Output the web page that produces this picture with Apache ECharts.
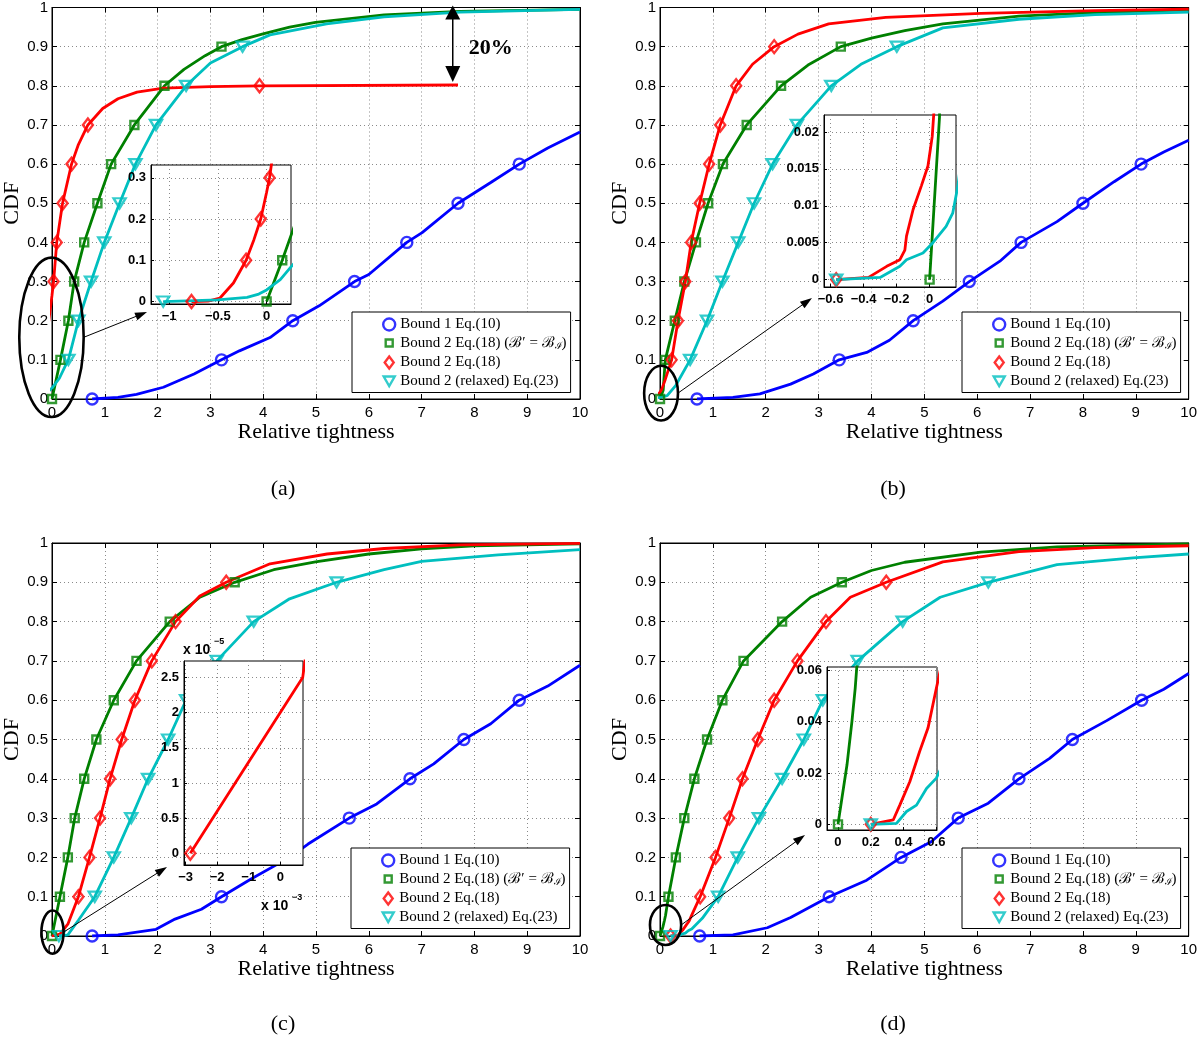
<!DOCTYPE html>
<html><head><meta charset="utf-8">
<script src="https://cdn.jsdelivr.net/npm/echarts@6/dist/echarts.min.js"></script>
<style>html,body{margin:0;padding:0;background:#fff}#c{width:1200px;height:1037px}</style>
</head><body><div id="c"></div><script>
// ---------------- data ----------------
const SERIES_NAMES = ['Bound 1 Eq.(10)', 'Bound 2 Eq.(18) (ℬ′ = ℬℐ)', 'Bound 2 Eq.(18)', 'Bound 2 (relaxed) Eq.(23)'];
const PANEL_LABELS = ['(a)', '(b)', '(c)', '(d)'];
const X_AXIS_NAME = 'Relative tightness';
const Y_AXIS_NAME = 'CDF';

// panel (a)
const A_BOUND1 = [[0.76,0],[1.25,0.004],[1.6,0.012],[2.11,0.03],[2.69,0.064],[3.21,0.1],[3.55,0.123],[4.13,0.157],[4.56,0.2],[5.06,0.238],[5.73,0.3],[6.0,0.318],[6.72,0.4],[7.01,0.425],[7.69,0.5],[8.31,0.553],[8.85,0.6],[9.39,0.641],[10,0.682]];
const A_BOUND2_BI = [[0,0],[0.16,0.1],[0.31,0.2],[0.42,0.3],[0.61,0.4],[0.86,0.5],[1.12,0.6],[1.56,0.7],[2.13,0.8],[2.5,0.842],[2.9,0.877],[3.21,0.9],[3.6,0.918],[3.98,0.932],[4.5,0.95],[4.99,0.962],[6.29,0.981],[7.73,0.99],[10,0.995]];
const A_BOUND2 = [[-0.77,0],[-0.6,0.001],[-0.48,0.008],[-0.34,0.045],[-0.21,0.1],[-0.13,0.15],[-0.06,0.2],[0.0,0.265],[0.03,0.3],[0.09,0.4],[0.2,0.5],[0.37,0.6],[0.5,0.65],[0.68,0.7],[0.96,0.742],[1.25,0.767],[1.61,0.784],[2.11,0.794],[3.0,0.798],[3.93,0.8],[7.69,0.802]];
const A_RELAXED = [[-1.06,0],[-0.5,0.004],[-0.2,0.01],[-0.08,0.018],[0,0.028],[0.14,0.053],[0.25,0.084],[0.31,0.1],[0.5,0.2],[0.74,0.3],[0.99,0.4],[1.28,0.5],[1.58,0.6],[1.97,0.7],[2.54,0.8],[3.0,0.858],[3.61,0.9],[4.13,0.93],[5.2,0.958],[6.29,0.976],[7.73,0.988],[10,0.995]];

// panel (b)
const B_BOUND1 = [[0.7,0],[1.38,0.004],[1.89,0.013],[2.47,0.038],[2.9,0.064],[3.39,0.1],[3.91,0.119],[4.34,0.15],[4.79,0.2],[5.35,0.25],[5.85,0.3],[6.43,0.352],[6.83,0.4],[7.51,0.453],[8.0,0.5],[8.59,0.555],[9.1,0.6],[9.53,0.631],[10,0.661]];
const B_BOUND2_BI = [[0,0],[0.06,0.022],[0.1,0.1],[0.28,0.2],[0.46,0.3],[0.68,0.4],[0.91,0.5],[1.19,0.6],[1.64,0.7],[2.29,0.8],[2.8,0.853],[3.42,0.9],[4.0,0.922],[4.63,0.941],[5.35,0.958],[6.79,0.978],[8.23,0.987],[10,0.994]];
const B_BOUND2 = [[-0.566,0],[-0.37,0.0003],[-0.26,0.0018],[-0.18,0.0027],[-0.15,0.004],[-0.14,0.0059],[-0.1,0.0095],[-0.05,0.0127],[-0.01,0.0154],[0.016,0.0194],[0.03,0.024],[0.1,0.05],[0.22,0.1],[0.34,0.2],[0.48,0.3],[0.59,0.4],[0.75,0.5],[0.93,0.6],[1.14,0.7],[1.44,0.8],[1.75,0.855],[2.16,0.9],[2.61,0.932],[3.19,0.958],[4.27,0.975],[6.07,0.985],[8.23,0.992],[10,0.996]];
const B_RELAXED = [[-0.566,0],[-0.3,0.0003],[-0.18,0.0018],[-0.14,0.0027],[-0.04,0.0036],[0.02,0.005],[0.1,0.0072],[0.14,0.009],[0.17,0.0125],[0.3,0.035],[0.57,0.1],[0.89,0.2],[1.18,0.3],[1.48,0.4],[1.78,0.5],[2.13,0.6],[2.59,0.7],[3.24,0.8],[3.8,0.855],[4.48,0.9],[5.35,0.948],[6.79,0.97],[8.23,0.982],[10,0.988]];

// panel (c)
const C_BOUND1 = [[0.76,0],[1.25,0.003],[1.97,0.017],[2.33,0.043],[2.83,0.068],[3.21,0.1],[3.77,0.145],[4.5,0.2],[4.85,0.234],[5.63,0.3],[6.15,0.336],[6.78,0.4],[7.23,0.438],[7.8,0.5],[8.31,0.54],[8.85,0.6],[9.39,0.636],[10,0.689]];
const C_BOUND2_BI = [[0,0],[0.15,0.1],[0.3,0.2],[0.43,0.3],[0.61,0.4],[0.84,0.5],[1.17,0.6],[1.6,0.7],[2.23,0.8],[2.8,0.862],[3.46,0.9],[4.2,0.932],[4.99,0.952],[6.0,0.972],[7.0,0.985],[8.0,0.993],[10,0.998]];
const C_BOUND2 = [[-0.00285,0],[0.00071,0.000025],[0.15,0.005],[0.3,0.03],[0.5,0.1],[0.71,0.2],[0.91,0.3],[1.1,0.4],[1.32,0.5],[1.57,0.6],[1.89,0.7],[2.34,0.8],[2.8,0.865],[3.3,0.9],[4.13,0.947],[5.21,0.972],[6.29,0.986],[7.73,0.995],[10,0.999]];
const C_RELAXED = [[0.13,0],[0.3,0.003],[0.5,0.04],[0.81,0.1],[1.17,0.2],[1.5,0.3],[1.82,0.4],[2.2,0.5],[2.54,0.6],[3.12,0.7],[3.82,0.8],[4.5,0.858],[5.39,0.9],[6.29,0.932],[7.0,0.953],[8.45,0.97],[10,0.983]];

// panel (d)
const D_BOUND1 = [[0.75,0],[1.38,0.003],[2.03,0.021],[2.47,0.047],[3.2,0.1],[3.91,0.142],[4.56,0.2],[5.13,0.24],[5.64,0.3],[6.21,0.338],[6.79,0.4],[7.37,0.452],[7.8,0.5],[8.45,0.548],[9.11,0.6],[9.53,0.628],[10,0.668]];
const D_BOUND2_BI = [[0,0],[0.024,0.0102],[0.055,0.0232],[0.085,0.04],[0.105,0.053],[0.16,0.1],[0.3,0.2],[0.46,0.3],[0.65,0.4],[0.89,0.5],[1.18,0.6],[1.58,0.7],[2.31,0.8],[2.85,0.862],[3.44,0.9],[4.0,0.93],[4.63,0.951],[6.07,0.977],[7.51,0.99],[10,0.998]];
const D_BOUND2 = [[0.2,0],[0.337,0.0017],[0.377,0.0075],[0.438,0.0166],[0.498,0.0284],[0.549,0.0375],[0.6,0.053],[0.76,0.1],[1.05,0.2],[1.31,0.3],[1.56,0.4],[1.85,0.5],[2.16,0.6],[2.6,0.7],[3.14,0.8],[3.6,0.862],[4.28,0.9],[5.35,0.952],[6.79,0.978],[8.23,0.988],[10,0.993]];
const D_RELAXED = [[0.2,0],[0.357,0.0004],[0.418,0.005],[0.479,0.0075],[0.54,0.014],[0.6,0.018],[0.8,0.045],[1.1,0.1],[1.47,0.2],[1.87,0.3],[2.31,0.4],[2.72,0.5],[3.08,0.6],[3.74,0.7],[4.59,0.8],[5.3,0.862],[6.21,0.9],[7.51,0.945],[8.95,0.962],[10,0.972]];

// inset tick values, zoom windows and the curves each inset shows (0 blue, 1 green, 2 red, 3 cyan)
const INSET_A_XTICKS = [-1, -0.5, 0];
const INSET_A_YTICKS = [0, 0.1, 0.2, 0.3];
const INSET_B_XTICKS = [-0.6, -0.4, -0.2, 0];
const INSET_B_YTICKS = [0, 0.005, 0.01, 0.015, 0.02];
const INSET_C_XTICKS = [-0.003, -0.002, -0.001, 0];
const INSET_C_YTICKS = [0, 0.000005, 0.00001, 0.000015, 0.00002, 0.000025];
const INSET_D_XTICKS = [0, 0.2, 0.4, 0.6];
const INSET_D_YTICKS = [0, 0.02, 0.04, 0.06];
const INSET_A_WINDOW = {x: [-1.185, 0.25], y: [-0.006, 0.331]};
const INSET_B_WINDOW = {x: [-0.64, 0.16], y: [-0.001, 0.0223]};
const INSET_C_WINDOW = {x: [-0.00305, 0.00072], y: [-0.00000166, 0.00002736]};
const INSET_D_WINDOW = {x: [-0.067, 0.604], y: [-0.0022, 0.0613]};
const INSET_C_SCALE = {x: 1e3, y: 1e5};
const INSET_CURVES = [[1, 2, 3], [1, 2, 3], [2], [1, 2, 3]];
// highlighted regions (data space) circled on the main axes
const CIRCLED_REGIONS = [
  {x: [-0.62, 0.6], y: [-0.046, 0.361]},
  {x: [-0.3, 0.34], y: [-0.055, 0.085]},
  {x: [-0.2, 0.22], y: [-0.045, 0.065]},
  {x: [-0.19, 0.4], y: [-0.023, 0.079]}
];
const GAP_ANNOTATION = {x: 7.59, yTop: 1.005, yBottom: 0.81, label: '20%', labelX: 8.31, labelY: 0.896};

// ---------------- layout & styles ----------------
const CURVES = [
  [A_BOUND1, A_BOUND2_BI, A_BOUND2, A_RELAXED],
  [B_BOUND1, B_BOUND2_BI, B_BOUND2, B_RELAXED],
  [C_BOUND1, C_BOUND2_BI, C_BOUND2, C_RELAXED],
  [D_BOUND1, D_BOUND2_BI, D_BOUND2, D_RELAXED]
];
const INSETS = [
  {xt: INSET_A_XTICKS, yt: INSET_A_YTICKS, w: INSET_A_WINDOW, sx: 1, sy: 1},
  {xt: INSET_B_XTICKS, yt: INSET_B_YTICKS, w: INSET_B_WINDOW, sx: 1, sy: 1},
  {xt: INSET_C_XTICKS, yt: INSET_C_YTICKS, w: INSET_C_WINDOW, sx: INSET_C_SCALE.x, sy: INSET_C_SCALE.y},
  {xt: INSET_D_XTICKS, yt: INSET_D_YTICKS, w: INSET_D_WINDOW, sx: 1, sy: 1}
];
const LAYOUT = [
  {grid: {left: 48, top: 6, width: 532, height: 393}, inset: {left: 151, top: 165, width: 140, height: 139}, legend: {left: 352, top: 312}, caption: [283, 489], tip: [-4, 8]},
  {grid: {left: 660, top: 6, width: 530, height: 393}, inset: {left: 824, top: 115, width: 132, height: 172}, legend: {left: 962, top: 312}, caption: [893, 489], tip: [-12, 11]},
  {grid: {left: 48, top: 543, width: 532, height: 393}, inset: {left: 184, top: 661, width: 119, height: 204}, legend: {left: 351, top: 848}, caption: [283, 1024], tip: [-17, 2]},
  {grid: {left: 660, top: 543, width: 530, height: 393}, inset: {left: 827, top: 667, width: 110, height: 163}, legend: {left: 962, top: 848}, caption: [893, 1024], tip: [-22, 5]}
];
const STYLES = [
  {color: '#0000ff', symbol: 'circle', size: 11, rotate: 0, icon: 'circle'},
  {color: '#008000', symbol: 'rect', size: 8, rotate: 0, icon: 'path://M0,0M12,12M2.5,2.5L9.5,2.5L9.5,9.5L2.5,9.5Z'},
  {color: '#ff0000', symbol: 'diamond', size: [10, 13], rotate: 0, icon: 'path://M0,0M12,12M6,0L10.5,6L6,12L1.5,6Z'},
  {color: '#00bfbf', symbol: 'triangle', size: [12, 10], rotate: 180, icon: 'path://M0,0M12,12M0.5,1.5L11.5,1.5L6,11Z'}
];
const SANS = 'Liberation Sans, Arial, sans-serif';
const SERIF = 'Liberation Serif, Times New Roman, serif';
const GRIDLINE = {color: '#8a8a8a', type: [1, 3], width: 1};
const LINE_W = 2.8, MARK_W = 2.4;

function markersOf(curve) {
  const out = [], seen = {};
  curve.forEach(function (p) {
    const k = Math.round(p[1] * 10);
    if (Math.abs(p[1] * 10 - k) < 1e-9 && k <= 9 && !seen[k]) { seen[k] = 1; out.push(p); }
  });
  return out;
}
function fmt(v, s) {
  return String(Number((v * s).toFixed(6))).replace('-', '\u2212');
}

const grids = [], xAxes = [], yAxes = [], series = [], legends = [];
// main grids 0..3
LAYOUT.forEach(function (L, i) {
  grids.push(Object.assign({show: true, borderColor: '#000', borderWidth: 1, containLabel: false, z: 0}, L.grid));
  xAxes.push({type: 'value', gridIndex: i, min: 0, max: 10, interval: 1,
    axisLine: {show: true, onZero: false, lineStyle: {color: '#000', width: 1}},
    axisTick: {show: true, inside: true, length: 5, lineStyle: {color: '#000'}},
    axisLabel: {color: '#000', fontSize: 15, fontFamily: SANS, margin: 6},
    splitLine: {show: true, lineStyle: GRIDLINE},
    name: X_AXIS_NAME, nameLocation: 'middle', nameGap: 20,
    nameTextStyle: {fontFamily: SERIF, fontSize: 22, color: '#000'}});
  yAxes.push({type: 'value', gridIndex: i, min: 0, max: 1, interval: 0.1,
    axisLine: {show: true, onZero: false, lineStyle: {color: '#000', width: 1}},
    axisTick: {show: true, inside: true, length: 5, lineStyle: {color: '#000'}},
    axisLabel: {color: '#000', fontSize: 15, fontFamily: SANS, margin: 4},
    splitLine: {show: true, lineStyle: GRIDLINE},
    name: Y_AXIS_NAME, nameLocation: 'middle', nameGap: 29,
    nameTextStyle: {fontFamily: SERIF, fontSize: 22, color: '#000'}});
});
// inset grids 4..7
LAYOUT.forEach(function (L, i) {
  const I = INSETS[i];
  grids.push(Object.assign({show: true, borderColor: '#000', borderWidth: 1, backgroundColor: '#fff', containLabel: false, z: 10}, L.inset));
  xAxes.push({type: 'value', gridIndex: 4 + i, min: I.w.x[0], max: I.w.x[1], z: 11,
    axisLine: {show: true, onZero: false, lineStyle: {color: '#000'}},
    axisTick: {show: true, inside: true, length: 3, customValues: I.xt, lineStyle: {color: '#000'}},
    axisLabel: {customValues: I.xt, color: '#000', fontSize: 13, fontWeight: 'bold', fontFamily: SANS, margin: 6,
      formatter: function (v) { return fmt(v, I.sx); }},
    splitLine: {show: true, lineStyle: GRIDLINE}});
  yAxes.push({type: 'value', gridIndex: 4 + i, min: I.w.y[0], max: I.w.y[1], z: 11,
    axisLine: {show: true, onZero: false, lineStyle: {color: '#000'}},
    axisTick: {show: true, inside: true, length: 3, customValues: I.yt, lineStyle: {color: '#000'}},
    axisLabel: {customValues: I.yt, color: '#000', fontSize: 13, fontWeight: 'bold', fontFamily: SANS, margin: 5,
      formatter: function (v) { return fmt(v, I.sy); }},
    splitLine: {show: true, lineStyle: GRIDLINE}});
});
// mirror axes (top / right ticks) 8..11
LAYOUT.forEach(function (L, i) {
  xAxes.push({type: 'value', gridIndex: i, position: 'top', min: 0, max: 10, interval: 1,
    axisLine: {show: true, onZero: false, lineStyle: {color: '#000'}},
    axisTick: {show: true, inside: true, length: 5, lineStyle: {color: '#000'}},
    axisLabel: {show: false}, splitLine: {show: false}});
  yAxes.push({type: 'value', gridIndex: i, position: 'right', min: 0, max: 1, interval: 0.1,
    axisLine: {show: true, onZero: false, lineStyle: {color: '#000'}},
    axisTick: {show: true, inside: true, length: 5, lineStyle: {color: '#000'}},
    axisLabel: {show: false}, splitLine: {show: false}});
});

function addCurve(curve, k, axisIndex, z) {
  const S = STYLES[k];
  series.push({type: 'line', name: SERIES_NAMES[k] + ' curve', xAxisIndex: axisIndex, yAxisIndex: axisIndex,
    data: curve, showSymbol: false, symbol: 'none', clip: true, z: z,
    lineStyle: {color: S.color, width: LINE_W}, itemStyle: {color: S.color}, silent: true});
  series.push({type: 'scatter', name: SERIES_NAMES[k], xAxisIndex: axisIndex, yAxisIndex: axisIndex,
    data: markersOf(curve), symbol: S.symbol, symbolSize: S.size, symbolRotate: S.rotate, clip: true, z: z + 1,
    itemStyle: {color: 'rgba(255,255,255,0)', borderColor: S.color, borderWidth: MARK_W}, silent: true});
}
CURVES.forEach(function (panel, i) {
  panel.forEach(function (curve, k) { addCurve(curve, k, i, 2); });
  INSET_CURVES[i].forEach(function (k) { addCurve(panel[k], k, 4 + i, 12); });
});

LAYOUT.forEach(function (L) {
  legends.push({left: L.legend.left, top: L.legend.top, orient: 'vertical',
    data: SERIES_NAMES.map(function (n, k) { return {name: n, icon: STYLES[k].icon}; }),
    selectedMode: false, itemWidth: 12, itemHeight: 12, itemGap: 3.5, padding: [5, 4, 4, 30],
    backgroundColor: '#fff', borderColor: '#000', borderWidth: 1, borderRadius: 0, z: 20,
    itemStyle: {borderWidth: MARK_W},
    formatter: function (name) {
      if (name === SERIES_NAMES[1]) return '{t|Bound 2 Eq.(18) (ℬ′ = ℬ}{s|ℐ}{t|)}';
      return '{t|' + name + '}';
    },
    textStyle: {color: '#000', fontFamily: SERIF, fontSize: 15,
      rich: {t: {fontFamily: SERIF, fontSize: 15, color: '#000', lineHeight: 17},
             s: {fontFamily: SERIF, fontSize: 10, color: '#000', lineHeight: 10, verticalAlign: 'bottom'}}}});
});

const chart = echarts.init(document.getElementById('c'), null, {renderer: 'canvas'});
chart.setOption({animation: false, backgroundColor: '#fff', grid: grids, xAxis: xAxes, yAxis: yAxes, series: series, legend: legends});

// ---------------- annotations ----------------
function head(tip, from, len, w) {
  const dx = tip[0] - from[0], dy = tip[1] - from[1], n = Math.hypot(dx, dy);
  const ux = dx / n, uy = dy / n, bx = tip[0] - ux * len, by = tip[1] - uy * len;
  return [tip, [bx - uy * w / 2, by + ux * w / 2], [bx + uy * w / 2, by - ux * w / 2]];
}
const G = [];
CIRCLED_REGIONS.forEach(function (r, i) {
  const p1 = chart.convertToPixel({gridIndex: i}, [r.x[0], r.y[1]]);
  const p2 = chart.convertToPixel({gridIndex: i}, [r.x[1], r.y[0]]);
  const cx = (p1[0] + p2[0]) / 2, cy = (p1[1] + p2[1]) / 2, rx = (p2[0] - p1[0]) / 2, ry = (p2[1] - p1[1]) / 2;
  G.push({type: 'ellipse', z: 30, shape: {cx: cx, cy: cy, rx: rx, ry: ry}, style: {fill: 'none', stroke: '#000', lineWidth: 2.6}});
  const ins = LAYOUT[i].inset;
  const from = [cx + rx, cy];
  const tip = [ins.left + LAYOUT[i].tip[0], ins.top + ins.height + LAYOUT[i].tip[1]];
  G.push({type: 'line', z: 30, shape: {x1: from[0], y1: from[1], x2: tip[0] - (tip[0]-from[0])*0.05, y2: tip[1] - (tip[1]-from[1])*0.05}, style: {stroke: '#000', lineWidth: 1}});
  G.push({type: 'polygon', z: 30, shape: {points: head(tip, from, 12, 8)}, style: {fill: '#000'}});
  G.push({type: 'text', z: 30, x: LAYOUT[i].caption[0], y: LAYOUT[i].caption[1],
    style: {text: PANEL_LABELS[i], font: '22px ' + SERIF, fill: '#000', textAlign: 'center', textVerticalAlign: 'middle', align: 'center', verticalAlign: 'middle'}});
});
(function () {
  const t = chart.convertToPixel({gridIndex: 0}, [GAP_ANNOTATION.x, GAP_ANNOTATION.yTop]);
  const b = chart.convertToPixel({gridIndex: 0}, [GAP_ANNOTATION.x, GAP_ANNOTATION.yBottom]);
  G.push({type: 'line', z: 30, shape: {x1: t[0], y1: t[1] + 10, x2: b[0], y2: b[1] - 10}, style: {stroke: '#000', lineWidth: 1.5}});
  G.push({type: 'polygon', z: 30, shape: {points: head(t, [t[0], t[1] + 50], 14, 15)}, style: {fill: '#000'}});
  G.push({type: 'polygon', z: 30, shape: {points: head(b, [b[0], b[1] - 50], 16, 15)}, style: {fill: '#000'}});
  const l = chart.convertToPixel({gridIndex: 0}, [GAP_ANNOTATION.labelX, GAP_ANNOTATION.labelY]);
  G.push({type: 'text', z: 30, x: l[0], y: l[1], style: {text: GAP_ANNOTATION.label, font: 'bold 22px ' + SERIF, fill: '#000', textAlign: 'center', textVerticalAlign: 'middle', align: 'center', verticalAlign: 'middle'}});
})();
(function () {
  const ins = LAYOUT[2].inset;
  const mk = function (x, y, txt, size) {
    return {type: 'text', z: 30, x: x, y: y, style: {text: txt, font: 'bold ' + size + 'px ' + SANS, fill: '#000', textAlign: 'left', textVerticalAlign: 'middle', align: 'left', verticalAlign: 'middle'}};
  };
  G.push(mk(ins.left - 1, ins.top - 11, 'x 10', 14));
  G.push(mk(ins.left + 30, ins.top - 19, '\u22125', 9));
  G.push(mk(ins.left + ins.width - 42, ins.top + ins.height + 41, 'x 10', 14));
  G.push(mk(ins.left + ins.width - 11, ins.top + ins.height + 33, '\u22123', 9));
})();
chart.setOption({graphic: G});
</script></body></html>
